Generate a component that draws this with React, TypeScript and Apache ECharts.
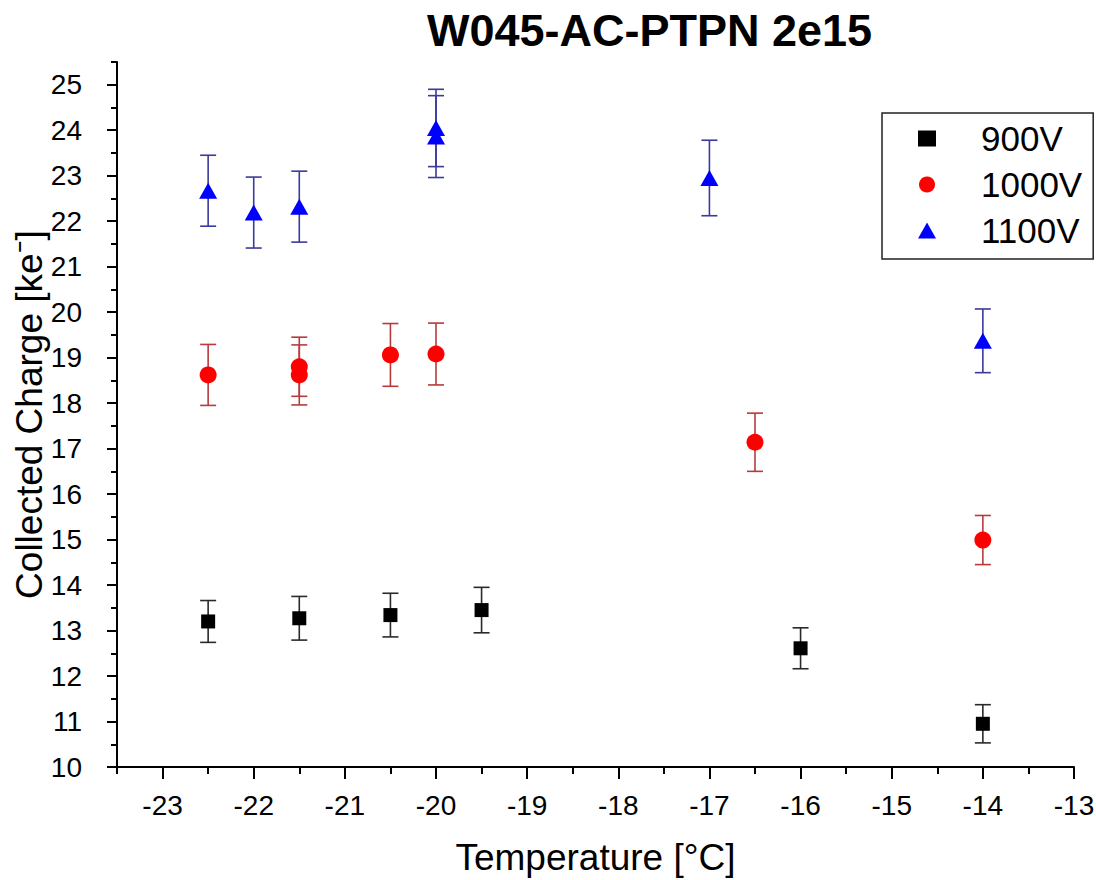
import React, { useEffect, useRef } from "react";
import * as echarts from "echarts";

const FONT = "Liberation Sans, Arial, sans-serif";

const titleText = "W045-AC-PTPN 2e15";
const xAxisName = "Temperature [°C]";
const yAxisName = "Collected Charge [ke⁻]";

const seriesNames = ["900V", "1000V", "1100V"];

const temps900 = [-22.5, -21.5, -20.5, -19.5, -16, -14];
const charge900 = [13.2, 13.27, 13.34, 13.45, 12.61, 10.95];
const err900 = [0.46, 0.48, 0.48, 0.5, 0.45, 0.42];

const temps1000 = [-22.5, -21.5, -21.5, -20.5, -20, -16.5, -14];
const charge1000 = [18.62, 18.8, 18.62, 19.06, 19.08, 17.14, 14.99];
const err1000 = [0.67, 0.65, 0.66, 0.69, 0.68, 0.64, 0.54];

const temps1100 = [-22.5, -22, -21.5, -20, -20, -17, -14];
const charge1100 = [22.67, 22.19, 22.32, 24.05, 23.86, 22.95, 19.37];
const err1100 = [0.78, 0.78, 0.78, 0.85, 0.9, 0.83, 0.7];

const xMin = -23.5;
const xMax = -13;
const yMin = 10;
const yMax = 25.5;

const xMajorTicks = [-23, -22, -21, -20, -19, -18, -17, -16, -15, -14, -13];
const xMinorTicks = [-23.5, -22.5, -21.5, -20.5, -19.5, -18.5, -17.5, -16.5, -15.5, -14.5, -13.5];
const yMajorTicks = [10, 11, 12, 13, 14, 15, 16, 17, 18, 19, 20, 21, 22, 23, 24, 25];
const yMinorTicks = [10.5, 11.5, 12.5, 13.5, 14.5, 15.5, 16.5, 17.5, 18.5, 19.5, 20.5, 21.5, 22.5, 23.5, 24.5, 25.5];

function errorSeries(temps: number[], vals: number[], errs: number[], color: string) {
  return {
    type: "custom",
    silent: true,
    z: 1,
    data: temps.map((t, i) => [t, vals[i], errs[i]]),
    encode: { x: 0, y: 1 },
    renderItem: (params: any, api: any) => {
      const x = api.value(0);
      const y = api.value(1);
      const e = api.value(2);
      const top = api.coord([x, y + e]);
      const bot = api.coord([x, y - e]);
      const hw = 8;
      const style = { stroke: color, lineWidth: 1.6 };
      return {
        type: "group",
        children: [
          { type: "line", shape: { x1: top[0], y1: top[1], x2: bot[0], y2: bot[1] }, style },
          { type: "line", shape: { x1: top[0] - hw, y1: top[1], x2: top[0] + hw, y2: top[1] }, style },
          { type: "line", shape: { x1: bot[0] - hw, y1: bot[1], x2: bot[0] + hw, y2: bot[1] }, style },
        ],
      };
    },
  };
}

export default function App() {
  const ref = useRef<HTMLDivElement>(null);
  useEffect(() => {
    if (!ref.current) return;
    const chart = echarts.init(ref.current, undefined, { renderer: "svg" });
    const axisLabelStyle = { fontFamily: FONT, fontSize: 28, color: "#000" };
    const nameStyle = { fontFamily: FONT, fontSize: 37, color: "#000" };
    chart.setOption({
      animation: false,
      backgroundColor: "#ffffff",
      title: {
        text: titleText,
        left: 422,
        top: 3,
        textStyle: { fontFamily: FONT, fontWeight: "bold", fontSize: 45, color: "#000" },
      },
      legend: {
        orient: "vertical",
        left: 882,
        top: 113,
        data: seriesNames,
        itemWidth: 18,
        itemHeight: 16,
        itemGap: 11,
        padding: [8, 11, 11, 36],
        borderColor: "#222",
        borderWidth: 1.5,
        textStyle: { fontFamily: FONT, fontSize: 35, color: "#000", padding: [0, 0, 0, 40] },
      },
      grid: { left: 117, right: 22, top: 62, bottom: 113, containLabel: false, outerBoundsMode: "none" },
      xAxis: [
        {
          type: "value",
          min: xMin,
          max: xMax,
          name: xAxisName,
          nameLocation: "middle",
          nameGap: 72,
          nameMoveOverlap: false,
          nameTextStyle: nameStyle,
          axisLine: { onZero: false, lineStyle: { color: "#000", width: 2 } },
          axisTick: { show: true, length: 12, customValues: xMajorTicks, lineStyle: { color: "#000", width: 2 } },
          axisLabel: { ...axisLabelStyle, margin: 24, customValues: xMajorTicks },
          splitLine: { show: false },
        },
        {
          type: "value",
          min: xMin,
          max: xMax,
          position: "bottom",
          axisLine: { show: false, onZero: false },
          axisTick: { show: true, length: 7, customValues: xMinorTicks, lineStyle: { color: "#000", width: 2 } },
          axisLabel: { show: false },
          splitLine: { show: false },
        },
      ],
      yAxis: [
        {
          type: "value",
          min: yMin,
          max: yMax,
          name: yAxisName,
          nameLocation: "middle",
          nameGap: 69,
          nameMoveOverlap: false,
          nameTextStyle: nameStyle,
          axisLine: { onZero: false, lineStyle: { color: "#000", width: 2 } },
          axisTick: { show: true, length: 10, customValues: yMajorTicks, lineStyle: { color: "#000", width: 2 } },
          axisLabel: { ...axisLabelStyle, margin: 35, customValues: yMajorTicks },
          splitLine: { show: false },
        },
        {
          type: "value",
          min: yMin,
          max: yMax,
          position: "left",
          axisLine: { show: false, onZero: false },
          axisTick: { show: true, length: 6, customValues: yMinorTicks, lineStyle: { color: "#000", width: 2 } },
          axisLabel: { show: false },
          splitLine: { show: false },
        },
      ],
      series: [
        errorSeries(temps900, charge900, err900, "#2a2a2a"),
        errorSeries(temps1000, charge1000, err1000, "#b83a3c"),
        errorSeries(temps1100, charge1100, err1100, "#3a3a9a"),
        {
          name: seriesNames[0],
          type: "scatter",
          z: 3,
          symbol: "rect",
          symbolSize: 14,
          itemStyle: { color: "#000000", opacity: 1 },
          data: temps900.map((t, i) => [t, charge900[i]]),
        },
        {
          name: seriesNames[1],
          type: "scatter",
          z: 3,
          symbol: "circle",
          symbolSize: 17,
          itemStyle: { color: "#ff0000", opacity: 1 },
          data: temps1000.map((t, i) => [t, charge1000[i]]),
        },
        {
          name: seriesNames[2],
          type: "scatter",
          z: 3,
          symbol: "triangle",
          symbolSize: [18, 16],
          itemStyle: { color: "#0000ff", opacity: 1 },
          data: temps1100.map((t, i) => [t, charge1100[i]]),
        },
      ],
    });
    return () => chart.dispose();
  }, []);
  return (
    <div
      ref={ref}
      style={{ position: "absolute", left: 0, top: 0, width: 1096, height: 880, background: "#fff" }}
    />
  );
}
